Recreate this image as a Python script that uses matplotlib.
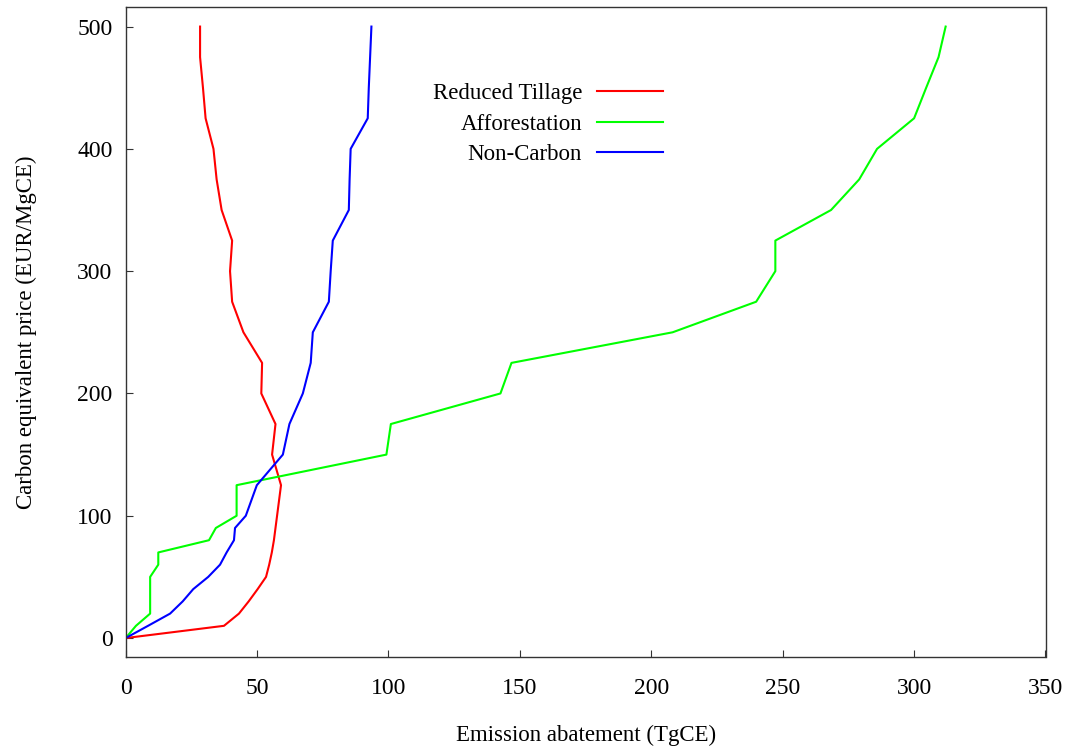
import matplotlib
matplotlib.use("Agg")
import matplotlib.pyplot as plt

price = [0, 10, 20, 30, 40, 50, 60, 70, 80, 90, 100, 125, 150, 175, 200, 225,
         250, 275, 300, 325, 350, 375, 400, 425, 450, 475, 500]

reduced_tillage = [0, 37.4, 43.1, 46.8, 50.2, 53.4, 54.6, 55.6, 56.4, 57.0, 57.6, 59.1,
                   55.7, 57.0, 51.6, 51.9, 44.8, 40.5, 39.7, 40.5, 36.5, 34.6, 33.4,
                   30.4, 29.4, 28.3, 28.3]
afforestation = [0, 3.9, 9.3, 9.3, 9.3, 9.3, 12.4, 12.4, 31.7, 34.3, 42.2, 42.2,
                 99.2, 100.9, 142.6, 146.8, 208.1, 239.9, 247.2, 247.2, 268.4,
                 279.1, 285.9, 300.0, 304.6, 309.3, 312.0]
non_carbon = [0, 8.5, 16.9, 21.7, 25.7, 31.4, 35.9, 38.4, 41.2, 41.6, 45.7, 49.9,
              59.8, 62.3, 67.4, 70.4, 71.2, 77.3, 78.0, 78.8, 84.9, 85.2, 85.6,
              92.1, 92.5, 93.0, 93.5]

series_labels = ["Reduced Tillage", "Afforestation", "Non-Carbon"]
series_colors = ["#ff0000", "#00ff00", "#0000ff"]

x_ticks = [0, 50, 100, 150, 200, 250, 300, 350]
y_ticks = [0, 100, 200, 300, 400, 500]

plt.rcParams['font.family'] = ['Liberation Serif', 'DejaVu Serif']
plt.rcParams['font.size'] = 16.5

fig = plt.figure(figsize=(10.70, 7.49), dpi=100)
ax = fig.add_axes([125.7 / 1070, (749 - 657) / 749, (1045.5 - 125.7) / 1070, (657 - 7) / 749])

for vals, lab, col in zip([reduced_tillage, afforestation, non_carbon], series_labels, series_colors):
    ax.plot(vals, price, color=col, lw=1.5, label=lab)

ax.set_xlim(0, 350)
ax.set_ylim(-15.5, 516)
ax.set_xticks(x_ticks)
ax.set_yticks(y_ticks)
ax.tick_params(axis='both', direction='in', length=5, width=0.8, color='#333333',
               labelsize=17)
ax.tick_params(axis='x', pad=15)
ax.tick_params(axis='y', pad=9.5)
for s in ax.spines.values():
    s.set_linewidth(1.0)
    s.set_color('#333333')

ax.set_xlabel("Emission abatement (TgCE)", labelpad=18.5)
ax.set_ylabel("Carbon equivalent price (EUR/MgCE)", labelpad=29)

leg = ax.legend(loc='upper right', bbox_to_anchor=(663 / 1070, (749 - 83) / 749),
                bbox_transform=fig.transFigure, frameon=False, markerfirst=False,
                borderpad=0, borderaxespad=0, handlelength=2.88, handletextpad=0.65,
                labelspacing=0.42)

fig.savefig("out.png", dpi=100)
